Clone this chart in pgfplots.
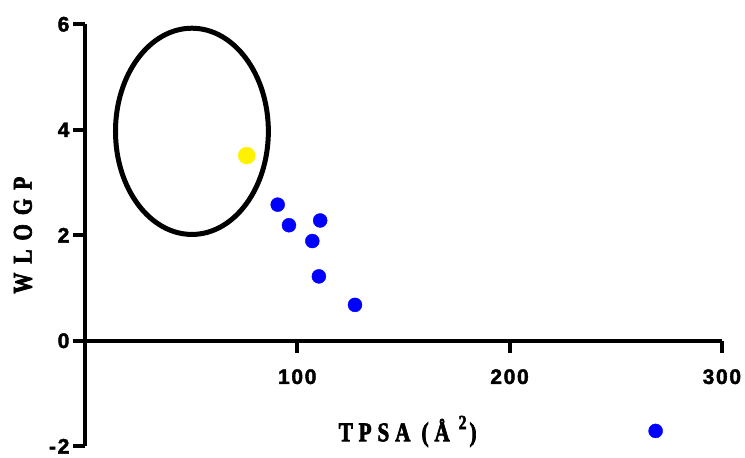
\documentclass[border=0pt]{standalone}
\usepackage{fontspec}
\setmainfont{Liberation Sans}
\newfontfamily\labfont{Liberation Serif}[UprightFont={Liberation Serif Bold},BoldFont={Liberation Serif Bold},FakeStretch=0.78,FakeBold=2.5,LetterSpace=14]
\newfontfamily\xlabfont{Liberation Serif}[UprightFont={Liberation Serif Bold},BoldFont={Liberation Serif Bold},FakeStretch=0.78,FakeBold=2.5,LetterSpace=22]
\newfontfamily\tickfont{Liberation Sans}[UprightFont={Liberation Sans Bold},BoldFont={Liberation Sans Bold},FakeBold=2,LetterSpace=8]
\usepackage{pgfplots}
\pgfplotsset{compat=1.18}
\begin{document}
\begin{tikzpicture}
\begin{axis}[
 scale only axis, width=637pt, height=422pt,
 xmin=0,xmax=300,ymin=-2,ymax=6,
 axis x line*=middle, axis y line*=left,
 axis line style={line width=4pt},
 xtick={100,200,300}, xticklabels={100,200,300},
 ytick={-2,0,2,4,6}, yticklabels={-2,0,2,4,6},
 tick align=outside, major tick length=12pt,
 tick style={line width=4pt, black},
 ticklabel style={font=\tickfont\fontsize{21}{21}\selectfont},
 xticklabel style={yshift=-13pt},
 xlabel={TPSA (Å\kern9pt\raisebox{0.45em}{\fontsize{20}{20}\selectfont 2}\kern3pt)},
 ylabel={W L O G P},
 xlabel style={font=\xlabfont\fontsize{27}{27}\selectfont, at={(axis cs:152,-1.905)}, anchor=base},
 ylabel style={font=\labfont\fontsize{27}{27}\selectfont, at={(axis cs:-29.2,2)}, anchor=center},
 clip=false,
]
\addplot[blue, only marks, mark=*, mark size=7pt, mark options={draw=blue, fill=blue}] coordinates {(90.8,2.58)(96.1,2.19)(110.8,2.28)(107.1,1.89)(110.2,1.22)(127.2,0.68)(268.8,-1.71)};
\addplot[yellow, only marks, mark=*, mark size=8.5pt, mark options={draw=yellow, fill=yellow}] coordinates {(76.2,3.51)};
\draw[line width=5pt] (axis cs:50.4,3.97) ellipse [x radius=36, y radius=1.955];
\path (axis cs:-40,-2.21) rectangle (axis cs:310.9,6.46);
\end{axis}
\end{tikzpicture}
\end{document}
